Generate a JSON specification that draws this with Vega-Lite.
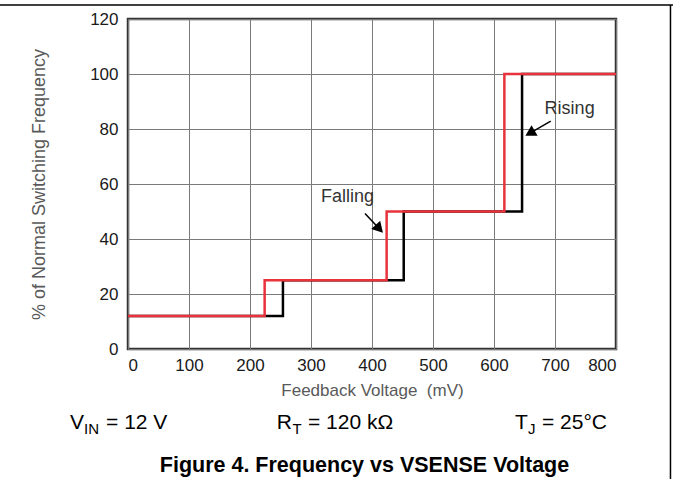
{
  "$schema": "https://vega.github.io/schema/vega-lite/v6.json",
  "width": 488,
  "height": 330,
  "autosize": {"type": "none"},
  "padding": {"left": 128, "top": 19, "right": 57, "bottom": 130},
  "background": "white",
  "config": {
    "font": "Liberation Sans",
    "view": {"stroke": "#333333", "strokeWidth": 2.5},
    "axis": {
      "domain": false,
      "ticks": false,
      "grid": true,
      "gridColor": "#7a7a7a",
      "gridWidth": 1,
      "labelFont": "Liberation Sans",
      "labelFontSize": 17,
      "labelColor": "#1a1a1a",
      "titleFont": "Liberation Sans",
      "titleFontSize": 17,
      "titleFontWeight": "normal",
      "titleColor": "#595959"
    }
  },
  "datasets": {
    "rising": [
      {"mV": 0, "pct": 12},
      {"mV": 254, "pct": 25},
      {"mV": 452, "pct": 50},
      {"mV": 646, "pct": 100},
      {"mV": 800, "pct": 100}
    ],
    "falling": [
      {"mV": 0, "pct": 12},
      {"mV": 224, "pct": 25},
      {"mV": 424, "pct": 50},
      {"mV": 617, "pct": 100},
      {"mV": 800, "pct": 100}
    ],
    "labels": [
      {"text": "Falling", "mV": 360, "pct": 55.3},
      {"text": "Rising", "mV": 724, "pct": 87.2}
    ],
    "arrows": [
      {"name": "Falling", "mV": 388.5, "pct": 49.3, "mV2": 412, "pct2": 43.7},
      {"name": "Rising", "mV": 693, "pct": 82.9, "mV2": 659, "pct2": 78.5}
    ],
    "conditions": [
      {"text": "V", "kind": "main", "mV": -95.1, "pct": -29},
      {"text": "IN", "kind": "sub", "mV": -72.1, "pct": -29},
      {"text": "= 12 V", "kind": "main", "mV": -36, "pct": -29},
      {"text": "R", "kind": "main", "mV": 244, "pct": -29},
      {"text": "T", "kind": "sub", "mV": 269.5, "pct": -29},
      {"text": "= 120 kΩ", "kind": "main", "mV": 295, "pct": -29},
      {"text": "T", "kind": "main", "mV": 634.4, "pct": -29},
      {"text": "J", "kind": "sub", "mV": 655.7, "pct": -29},
      {"text": "= 25°C", "kind": "main", "mV": 678.7, "pct": -29}
    ],
    "caption": [
      {"text": "Figure 4. Frequency vs VSENSE Voltage", "mV": 387.7, "pct": -44.6}
    ],
    "frame": [
      {"mV": -209.8, "pct": 125.1, "mV2": 893.4, "pct2": 125.1},
      {"mV": 889.3, "pct": 125.1, "mV2": 889.3, "pct2": -47.5}
    ]
  },
  "encoding": {
    "x": {
      "field": "mV",
      "type": "quantitative",
      "scale": {"domain": [0, 800], "nice": false, "zero": false},
      "axis": {
        "values": [0, 100, 200, 300, 400, 500, 600, 700, 800],
        "labelPadding": 8,
        "title": "Feedback Voltage\u00a0 (mV)",
        "titlePadding": 9
      }
    },
    "y": {
      "field": "pct",
      "type": "quantitative",
      "scale": {"domain": [0, 120], "nice": false, "zero": false},
      "axis": {
        "values": [0, 20, 40, 60, 80, 100, 120],
        "labelPadding": 10,
        "title": "% of Normal Switching Frequency",
        "titlePadding": 41,
        "titleFontSize": 18
      }
    }
  },
  "layer": [
    {
      "data": {"name": "rising"},
      "mark": {"type": "line", "interpolate": "step-after", "color": "#000000", "strokeWidth": 2.5}
    },
    {
      "data": {"name": "falling"},
      "mark": {"type": "line", "interpolate": "step-after", "color": "#e8333c", "strokeWidth": 2.5}
    },
    {
      "data": {"name": "arrows"},
      "mark": {"type": "rule", "color": "#000000", "strokeWidth": 1.5},
      "encoding": {
        "x2": {"field": "mV2"},
        "y2": {"field": "pct2"}
      }
    },
    {
      "data": {"name": "arrows"},
      "transform": [{"filter": "datum.name === 'Falling'"}],
      "mark": {"type": "point", "shape": "triangle-up", "filled": true, "color": "#000000", "opacity": 1, "size": 150, "angle": 137},
      "encoding": {
        "x": {"field": "mV2", "type": "quantitative"},
        "y": {"field": "pct2", "type": "quantitative"}
      }
    },
    {
      "data": {"name": "arrows"},
      "transform": [{"filter": "datum.name === 'Rising'"}],
      "mark": {"type": "point", "shape": "triangle-up", "filled": true, "color": "#000000", "opacity": 1, "size": 150, "angle": 240},
      "encoding": {
        "x": {"field": "mV2", "type": "quantitative"},
        "y": {"field": "pct2", "type": "quantitative"}
      }
    },
    {
      "data": {"name": "labels"},
      "transform": [{"filter": "datum.text === 'Falling'"}],
      "mark": {"type": "text", "fontSize": 18, "letterSpacing": 2.6, "color": "#333333", "align": "center", "baseline": "middle"},
      "encoding": {"text": {"field": "text"}}
    },
    {
      "data": {"name": "labels"},
      "transform": [{"filter": "datum.text === 'Rising'"}],
      "mark": {"type": "text", "fontSize": 18, "letterSpacing": 1.2, "color": "#333333", "align": "center", "baseline": "middle"},
      "encoding": {"text": {"field": "text"}}
    },
    {
      "data": {"name": "conditions"},
      "transform": [{"filter": "datum.kind === 'main'"}],
      "mark": {"type": "text", "fontSize": 21, "color": "#000000", "align": "left", "baseline": "alphabetic"},
      "encoding": {"text": {"field": "text"}}
    },
    {
      "data": {"name": "conditions"},
      "transform": [{"filter": "datum.kind === 'sub'"}],
      "mark": {"type": "text", "fontSize": 15, "color": "#000000", "align": "left", "baseline": "alphabetic", "dy": 5},
      "encoding": {"text": {"field": "text"}}
    },
    {
      "data": {"name": "caption"},
      "mark": {"type": "text", "fontSize": 21.5, "fontWeight": "bold", "color": "#000000", "align": "center", "baseline": "alphabetic"},
      "encoding": {"text": {"field": "text"}}
    },
    {
      "data": {"name": "frame"},
      "mark": {"type": "rule", "color": "#000000", "strokeWidth": 1.5},
      "encoding": {
        "x2": {"field": "mV2"},
        "y2": {"field": "pct2"}
      }
    }
  ]
}
